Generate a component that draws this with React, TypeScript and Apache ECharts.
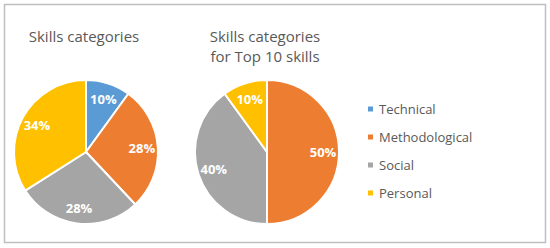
import React, { useEffect, useRef } from "react";
import * as echarts from "echarts";

const categories = ["Technical", "Methodological", "Social", "Personal"];
const allSkills = [10, 28, 28, 34];
const top10Skills = [0, 50, 40, 10];
const colors = ["#5B9BD5", "#ED7D31", "#A5A5A5", "#FFC000"];
const titles = ["Skills categories", "Skills categories\nfor Top 10 skills"];

const FONT = "'Open Sans', 'Noto Sans', sans-serif";

function makeData(values: number[], visible: boolean) {
  return categories.map((name, i) => ({
    name,
    value: values[i],
    itemStyle: { color: visible ? colors[i] : "transparent" },
  }));
}

function pieSeries(values: number[], center: number[]) {
  return [
    {
      type: "pie",
      center,
      radius: [0, 72],
      startAngle: 90,
      clockwise: true,
      avoidLabelOverlap: false,
      silent: true,
      label: { show: false },
      labelLine: { show: false },
      itemStyle: { borderColor: "#ffffff", borderWidth: 2 },
      data: makeData(values, true),
    },
    {
      type: "pie",
      center,
      radius: [34, 72],
      startAngle: 90,
      clockwise: true,
      avoidLabelOverlap: false,
      silent: true,
      legendHoverLink: false,
      itemStyle: { borderWidth: 0 },
      label: {
        show: true,
        position: "inside",
        color: "#ffffff",
        fontFamily: FONT,
        fontWeight: "bold",
        fontSize: 13,
        formatter: (p: any) => (p.value > 0 ? p.value + "%" : ""),
      },
      labelLine: { show: false },
      data: makeData(values, false),
    },
  ];
}

export default function App() {
  const ref = useRef<HTMLDivElement>(null);
  useEffect(() => {
    if (!ref.current) return;
    const chart = echarts.init(ref.current, undefined, { renderer: "svg" });
    chart.setOption({
      animation: false,
      backgroundColor: "#ffffff",
      title: [
        {
          text: titles[0],
          left: 79,
          top: 23,
          textAlign: "center",
          textStyle: { fontFamily: FONT, fontSize: 15, fontWeight: "normal", color: "#595959" },
        },
        {
          text: titles[1],
          left: 260,
          top: 21,
          textAlign: "center",
          textStyle: {
            fontFamily: FONT,
            fontSize: 15,
            fontWeight: "normal",
            color: "#595959",
            lineHeight: 20,
          },
        },
      ],
      legend: {
        orient: "vertical",
        left: 361,
        top: 95,
        icon: "rect",
        itemWidth: 7,
        itemHeight: 7,
        itemGap: 10,
        data: categories,
        textStyle: { fontFamily: FONT, fontSize: 13, color: "#595959", height: 18, lineHeight: 18 },
      },
      graphic: [
        {
          type: "rect",
          shape: { x: 4.5, y: 4.5, width: 541, height: 238 },
          style: { fill: "none", stroke: "#bfbfbf", lineWidth: 1.5 },
          silent: true,
        },
      ],
      series: [...pieSeries(allSkills, [86, 152]), ...pieSeries(top10Skills, [267, 152])],
    });
    return () => chart.dispose();
  }, []);
  return (
    <div
      ref={ref}
      style={{ position: "fixed", left: 0, top: 0, width: 550, height: 248 }}
    />
  );
}
